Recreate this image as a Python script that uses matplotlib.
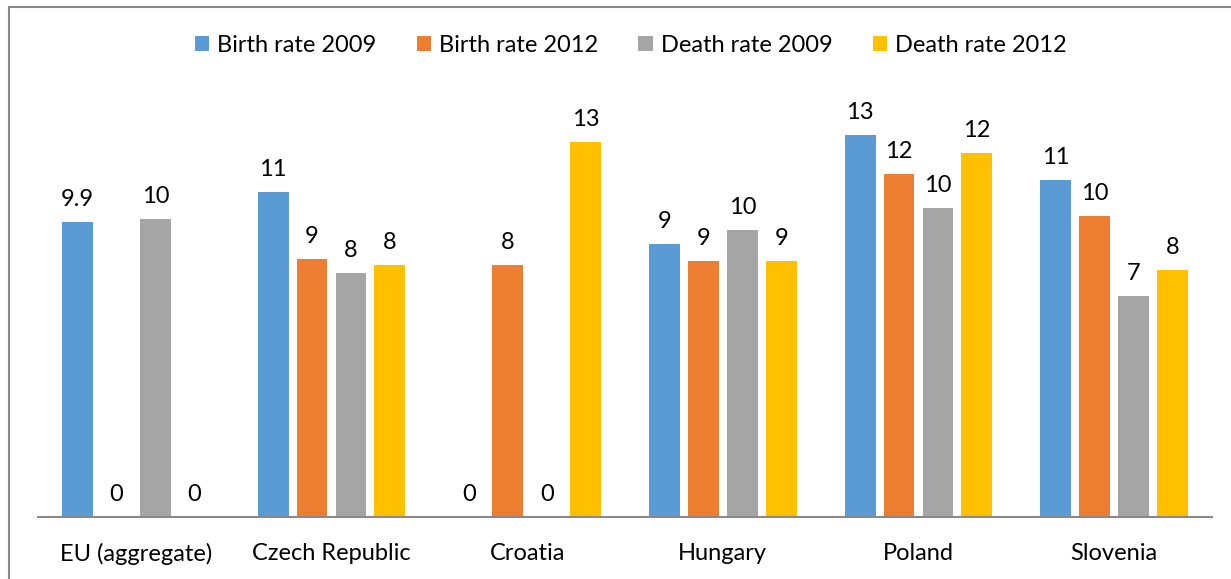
import numpy as np
import matplotlib
matplotlib.use("Agg")
import matplotlib.pyplot as plt
from matplotlib.patches import Rectangle

# data
countries = ["EU (aggregate)", "Czech Republic", "Croatia", "Hungary", "Poland", "Slovenia"]
series = ["Birth rate 2009", "Birth rate 2012", "Death rate 2009", "Death rate 2012"]
colors = ["#5b9bd5", "#ed7d31", "#a5a5a5", "#ffc000"]

birth_2009 = [9.9, 10.9, 0, 9.16, 12.82, 11.31]
birth_2012 = [0, 8.66, 8.46, 8.59, 11.51, 10.1]
death_2009 = [10.0, 8.19, 0, 9.63, 10.37, 7.42]
death_2012 = [0, 8.46, 12.58, 8.59, 12.21, 8.29]

labels_b09 = ["9.9", "11", "0", "9", "13", "11"]
labels_b12 = ["0", "9", "8", "9", "12", "10"]
labels_d09 = ["10", "8", "0", "10", "10", "7"]
labels_d12 = ["0", "8", "13", "9", "12", "8"]

values = [birth_2009, birth_2012, death_2009, death_2012]
labels = [labels_b09, labels_b12, labels_d09, labels_d12]

plt.rcParams['font.family'] = ['Lato', 'DejaVu Sans']

fig = plt.figure(figsize=(12.31, 5.79), dpi=100)
ax = fig.add_axes([38 / 1231, 62 / 579, 1174 / 1231, 417 / 579])

x = np.arange(len(countries))
width = 0.158
step = 0.199
for i, (vals, labs) in enumerate(zip(values, labels)):
    pos = x + (i - 1.5) * step
    ax.bar(pos, vals, width, color=colors[i], label=series[i])
    for p, v, t in zip(pos, vals, labs):
        ax.text(p, v + 0.4, t, ha='center', va='bottom', fontsize=17, color='black')

ax.set_xlim(-0.5, 5.5)
ax.set_ylim(0, 14)
ax.set_xticks(x)
ax.set_xticklabels(countries, fontsize=17)
ax.tick_params(axis='x', length=0, pad=19)
ax.set_yticks([])
for s in ['top', 'right', 'left']:
    ax.spines[s].set_visible(False)
ax.spines['bottom'].set_color('#898989')
ax.spines['bottom'].set_linewidth(1.5)

ax.legend(loc='center', bbox_to_anchor=(0.505, 1.13), ncol=4, frameon=False,
          fontsize=17, handlelength=0.6, handleheight=0.6, handletextpad=0.35,
          columnspacing=1.7)

# outer chart border
fig.patches.append(Rectangle((9 / 1231, -0.1), 1.2, 1.1 - 7 / 579, transform=fig.transFigure,
                             fill=False, edgecolor='#888888', linewidth=1.5))

fig.savefig("out.png", dpi=100)
